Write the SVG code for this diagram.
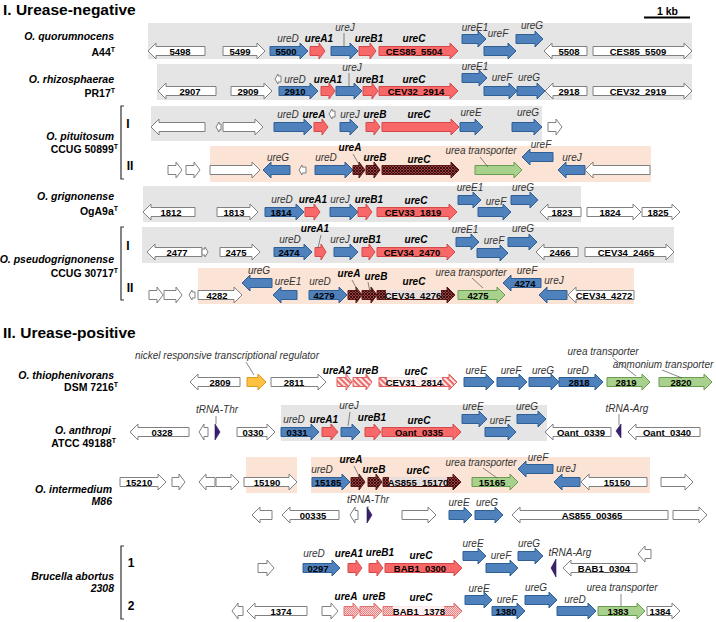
<svg xmlns="http://www.w3.org/2000/svg" width="716" height="622" viewBox="0 0 716 622">
<defs>
<pattern id="dh" width="3" height="3" patternUnits="userSpaceOnUse"><rect width="3" height="3" fill="#9e3e3e"/><path d="M0 0L3 3M3 0L0 3" stroke="#2e0a0a" stroke-width="0.9"/></pattern>
<pattern id="ps" width="4" height="4" patternUnits="userSpaceOnUse" patternTransform="rotate(-45)"><rect width="4" height="4" fill="#fde8e8"/><rect width="2" height="4" fill="#ec6a6a"/></pattern>
<pattern id="lh" width="2" height="2" patternUnits="userSpaceOnUse"><rect width="2" height="2" fill="#fbd2d2"/><rect width="1" height="1" fill="#ef8282"/><rect x="1" y="1" width="1" height="1" fill="#ef8282"/></pattern>
</defs>
<style>
.w{fill:#fff;stroke:#808080;stroke-width:1}
.b{fill:#4f81bd;stroke:#2f5f93;stroke-width:1}
.r{fill:#f96868;stroke:#d5484a;stroke-width:1}
.gr{fill:#a9d18e;stroke:#6a9c4f;stroke-width:1}
.yl{fill:#ffc13f;stroke:#d99a20;stroke-width:1}
.dh{fill:url(#dh);stroke:#5b1a1a;stroke-width:1}
.ps{fill:url(#ps);stroke:#e06060;stroke-width:1}
.lh{fill:url(#lh);stroke:#e07070;stroke-width:1}
.bg{fill:#e5e5e5}
.bp{fill:#fbe4d5}
.tr{fill:#3b2070;stroke:#2a1450;stroke-width:0.6}
text{font-family:"Liberation Sans",Arial,sans-serif}
.in{font-size:9.5px;font-weight:bold;text-anchor:middle;fill:#000}
.it{font-size:10px;font-style:italic;text-anchor:middle;fill:#333}
.bi{font-size:10px;font-style:italic;font-weight:bold;text-anchor:middle;fill:#000}
.sp{font-size:10.5px;font-style:italic;font-weight:bold;text-anchor:end;fill:#000}
.st{font-size:10.5px;font-weight:bold;text-anchor:end;fill:#000}
.ttl{font-size:15.5px;font-weight:bold;fill:#000}
.rn{font-size:12px;font-weight:bold;text-anchor:middle;fill:#000}
.ld{stroke:#555;stroke-width:0.7;fill:none}
.br{stroke:#333;stroke-width:1.2;fill:none}
.tb{fill:#fff;opacity:0.85}
</style>

<g id="boxes">
<rect class="bg" x="148" y="23" width="544" height="36"/>
<rect class="bg" x="157" y="64" width="535" height="36"/>
<rect class="bg" x="151" y="106" width="391" height="35"/>
<rect class="bp" x="210" y="146" width="441" height="36"/>
<rect class="bg" x="143" y="186" width="438" height="36"/>
<rect class="bg" x="142" y="227" width="532" height="36"/>
<rect class="bp" x="198" y="268" width="436" height="36"/>
<rect class="bg" x="281" y="405" width="266" height="36"/>
<rect class="bp" x="246" y="457" width="51" height="36"/>
<rect class="bp" x="311" y="457" width="339" height="36"/>
</g>

<g id="titles">
<text class="ttl" x="3" y="15">I. Urease-negative</text>
<text class="ttl" x="3" y="338">II. Urease-positive</text>
<text x="657" y="15" style="font-size:10.5px;font-weight:bold">1 kb</text>
<line x1="644" y1="17.5" x2="690" y2="17.5" stroke="#000" stroke-width="2"/>
</g>

<g id="species">
<text class="sp" x="114" y="40">O. quorumnocens</text>
<text class="st" x="115" y="56">A44<tspan font-size="7" dy="-4">T</tspan></text>
<text class="sp" x="114" y="83">O. rhizosphaerae</text>
<text class="st" x="115" y="97">PR17<tspan font-size="7" dy="-4">T</tspan></text>
<text class="sp" x="114" y="140">O. pituitosum</text>
<text class="st" x="118" y="153">CCUG 50899<tspan font-size="7" dy="-4">T</tspan></text>
<text class="sp" x="114" y="200">O. grignonense</text>
<text class="st" x="118" y="215">OgA9a<tspan font-size="7" dy="-4">T</tspan></text>
<text class="sp" x="114" y="263">O. pseudogrignonense</text>
<text class="st" x="118" y="277">CCUG 30717<tspan font-size="7" dy="-4">T</tspan></text>
<text class="sp" x="114" y="379">O. thiophenivorans</text>
<text class="st" x="118" y="391">DSM 7216<tspan font-size="7" dy="-4">T</tspan></text>
<text class="sp" x="111" y="434">O. anthropi</text>
<text class="st" x="116" y="447">ATCC 49188<tspan font-size="7" dy="-4">T</tspan></text>
<text class="sp" x="112" y="493">O. intermedium</text>
<text class="sp" x="112" y="505">M86</text>
<text class="sp" x="114" y="580">Brucella abortus</text>
<text class="sp" x="114" y="592">2308</text>
<path class="br" d="M124 106H121V179H124"/>
<text class="rn" x="128" y="128">I</text>
<text class="rn" x="130" y="170">II</text>
<path class="br" d="M124 227H121V300H124"/>
<text class="rn" x="128" y="250">I</text>
<text class="rn" x="130" y="292">II</text>
<path class="br" d="M124 546H121V619H124"/>
<text class="rn" x="131" y="567">1</text>
<text class="rn" x="131" y="610">2</text>
</g>

<g id="row1">
<g id="r1-5498"><path class="w" d="M205 46.5H156v-3.5l-8 8 8 8v-3.5H205z"/><text class="in" x="180" y="54.5">5498</text></g>
<g id="r1-5499"><path class="w" d="M223 46.5H257v-3.5l8 8-8 8v-3.5H223z"/><text class="in" x="240" y="54.5">5499</text></g>
<g id="r1-ureD"><path class="b" d="M270 46.5H300v-3.5l8 8-8 8v-3.5H270z"/><text class="in" x="286" y="54.5">5500</text><text class="it" x="288" y="42">ureD</text></g>
<g id="r1-ureA1"><path class="r" d="M310 46.5H319v-3.5l6 8-6 8v-3.5H310z"/><text class="bi" x="319" y="42">ureA1</text></g>
<g id="r1-ureJ"><path class="b" d="M331 46.5H350v-3.5l8 8-8 8v-3.5H331z"/><text class="it" x="345" y="31">ureJ</text></g>
<g id="r1-ureB1"><path class="r" d="M359 46.5H370v-3.5l6 8-6 8v-3.5H359z"/><text class="bi" x="369" y="42">ureB1</text></g>
<g id="r1-ureC"><path class="r" d="M379 46.5H450v-3.5l8 8-8 8v-3.5H379z"/><text class="in" x="414" y="54.5">CES85_5504</text><text class="bi" x="414" y="42">ureC</text></g>
<g id="r1-ureE1"><path class="b" d="M462 34.5H478v-3.5l8 8-8 8v-3.5H462z"/><text class="it" x="475" y="31">ureE1</text></g>
<g id="r1-ureF"><path class="b" d="M484 46.5H508v-3.5l8 8-8 8v-3.5H484z"/><text class="it" x="498" y="37">ureF</text></g>
<g id="r1-ureG"><path class="b" d="M516 34.5H535v-3.5l8 8-8 8v-3.5H516z"/><text class="it" x="532" y="29">ureG</text></g>
<g id="r1-5508"><path class="w" d="M587 46.5H552v-3.5l-8 8 8 8v-3.5H587z"/><text class="in" x="569" y="54.5">5508</text></g>
<g id="r1-5509"><path class="w" d="M593 46.5H684v-3.5l8 8-8 8v-3.5H593z"/><text class="in" x="638" y="54.5">CES85_5509</text></g>
</g>

<g id="row2">
<g id="r2-2907"><path class="w" d="M216 86.5H166v-3.5l-8 8 8 8v-3.5H216z"/><text class="in" x="190" y="94.5">2907</text></g>
<g id="r2-2909"><path class="w" d="M231 86.5H264v-3.5l8 8-8 8v-3.5H231z"/><text class="in" x="248" y="94.5">2909</text></g>
<g id="r2-small"><path class="w" d="M281 76H278v-2l-3 5 3 5v-2H281z"/></g>
<g id="r2-ureD"><path class="b" d="M279 86.5H310v-3.5l8 8-8 8v-3.5H279z"/><text class="in" x="295" y="94.5">2910</text><text class="it" x="295" y="83">ureD</text></g>
<g id="r2-ureA1"><path class="r" d="M321 86.5H329v-3.5l6 8-6 8v-3.5H321z"/><text class="bi" x="328" y="83">ureA1</text></g>
<g id="r2-ureJ"><path class="b" d="M336 86.5H354v-3.5l8 8-8 8v-3.5H336z"/><text class="it" x="352" y="71">ureJ</text></g>
<g id="r2-ureB1"><path class="r" d="M363 86.5H372v-3.5l6 8-6 8v-3.5H363z"/><text class="bi" x="370" y="83">ureB1</text></g>
<g id="r2-ureC"><path class="r" d="M379 86.5H450v-3.5l8 8-8 8v-3.5H379z"/><text class="in" x="416" y="94.5">CEV32_2914</text><text class="bi" x="414" y="83">ureC</text></g>
<g id="r2-ureE1"><path class="b" d="M462 73.5H479v-3.5l8 8-8 8v-3.5H462z"/><text class="it" x="475" y="70">ureE1</text></g>
<g id="r2-ureF"><path class="b" d="M484 86.5H509v-3.5l8 8-8 8v-3.5H484z"/><text class="it" x="502" y="81">ureF</text></g>
<g id="r2-ureG"><path class="b" d="M517 86.5H537v-3.5l8 8-8 8v-3.5H517z"/><text class="it" x="529" y="81">ureG</text></g>
<g id="r2-2918"><path class="w" d="M587 86.5H553v-3.5l-8 8 8 8v-3.5H587z"/><text class="in" x="569" y="94.5">2918</text></g>
<g id="r2-2919"><path class="w" d="M593 86.5H684v-3.5l8 8-8 8v-3.5H593z"/><text class="in" x="638" y="94.5">CEV32_2919</text></g>
</g>

<g id="row3a">
<g id="r3a-g1"><path class="w" d="M205 122.5H159v-3.5l-8 8 8 8v-3.5H205z"/></g>
<g id="r3a-g2"><path class="w" d="M221 124H219v-2l-3 5 3 5v-2H221z"/></g>
<g id="r3a-g3"><path class="w" d="M223 122.5H255v-3.5l8 8-8 8v-3.5H223z"/></g>
<g id="r3a-ureD"><path class="b" d="M274 122.5H304v-3.5l8 8-8 8v-3.5H274z"/><text class="it" x="288" y="118">ureD</text></g>
<g id="r3a-ureA"><path class="r" d="M314 122.5H322v-3.5l6 8-6 8v-3.5H314z"/><text class="bi" x="314" y="118">ureA</text></g>
<g id="r3a-g4"><path class="w" d="M335 111H332v-2l-3 5 3 5v-2H335z"/></g>
<g id="r3a-ureJ"><path class="b" d="M340 122.5H350v-3.5l8 8-8 8v-3.5H340z"/><text class="it" x="350" y="118">ureJ</text></g>
<g id="r3a-ureB"><path class="r" d="M366 122.5H374v-3.5l6 8-6 8v-3.5H366z"/><text class="bi" x="375" y="118">ureB</text></g>
<g id="r3a-ureC"><path class="r" d="M382 122.5H451v-3.5l8 8-8 8v-3.5H382z"/><text class="bi" x="419" y="118">ureC</text></g>
<g id="r3a-ureE"><path class="b" d="M460 122.5H475v-3.5l8 8-8 8v-3.5H460z"/><text class="it" x="471" y="116">ureE</text></g>
<g id="r3a-ureG"><path class="b" d="M512 122.5H534v-3.5l8 8-8 8v-3.5H512z"/><text class="it" x="528" y="116">ureG</text></g>
<g id="r3a-g5"><path class="w" d="M548 122.5H556v-3.5l6 8-6 8v-3.5H548z"/></g>
</g>

<g id="row3b">
<g id="r3b-g1"><path class="w" d="M168 165.5H176v-3.5l6 8-6 8v-3.5H168z"/></g>
<g id="r3b-g2"><path class="w" d="M186 165.5H194v-3.5l6 8-6 8v-3.5H186z"/></g>
<g id="r3b-g3"><path class="w" d="M210 165.5H252v-3.5l8 8-8 8v-3.5H210z"/></g>
<g id="r3b-ureG"><path class="b" d="M290 165.5H271v-3.5l-8 8 8 8v-3.5H290z"/><text class="it" x="278" y="161">ureG</text></g>
<g id="r3b-g4"><path class="w" d="M306 167H302v-2l-3 5 3 5v-2H306z"/></g>
<g id="r3b-ureD"><path class="b" d="M315 165.5H345v-3.5l8 8-8 8v-3.5H315z"/><text class="it" x="326" y="161">ureD</text></g>
<g id="r3b-ureA"><path class="dh" d="M353 165.5H359v-3.5l6 8-6 8v-3.5H353z"/><text class="bi" x="350" y="151">ureA</text></g>
<g id="r3b-ureB"><path class="dh" d="M366 165.5H374v-3.5l6 8-6 8v-3.5H366z"/><text class="bi" x="375" y="161">ureB</text></g>
<g id="r3b-ureC"><path class="dh" d="M382 165.5H451v-3.5l8 8-8 8v-3.5H382z"/><text class="bi" x="419" y="163">ureC</text></g>
<g id="r3b-ut"><path class="gr" d="M475 165.5H514v-3.5l8 8-8 8v-3.5H475z"/><text class="it" x="481" y="154">urea transporter</text></g>
<g id="r3b-ureF"><path class="b" d="M553 152.5H530v-3.5l-8 8 8 8v-3.5H553z"/><text class="it" x="541" y="148">ureF</text></g>
<g id="r3b-ureJ"><path class="b" d="M585 165.5H566v-3.5l-8 8 8 8v-3.5H585z"/><text class="it" x="572" y="161">ureJ</text></g>
<g id="r3b-g5"><path class="w" d="M650 165.5H593v-3.5l-8 8 8 8v-3.5H650z"/></g>
</g>

<g id="row4">
<g id="r4-1812"><path class="w" d="M195 207.5H151v-3.5l-8 8 8 8v-3.5H195z"/><text class="in" x="171" y="215.5">1812</text></g>
<g id="r4-1813"><path class="w" d="M217 207.5H250v-3.5l8 8-8 8v-3.5H217z"/><text class="in" x="234" y="215.5">1813</text></g>
<g id="r4-ureD"><path class="b" d="M265 207.5H296v-3.5l8 8-8 8v-3.5H265z"/><text class="in" x="281" y="215.5">1814</text><text class="it" x="282" y="203">ureD</text></g>
<g id="r4-ureA1"><path class="r" d="M305 207.5H314v-3.5l6 8-6 8v-3.5H305z"/><text class="bi" x="313" y="203">ureA1</text></g>
<g id="r4-ureJ"><path class="b" d="M330 207.5H350v-3.5l8 8-8 8v-3.5H330z"/><text class="it" x="340" y="203">ureJ</text></g>
<g id="r4-ureB1"><path class="r" d="M358 207.5H366v-3.5l6 8-6 8v-3.5H358z"/><text class="bi" x="369" y="203">ureB1</text></g>
<g id="r4-ureC"><path class="r" d="M377 207.5H449v-3.5l8 8-8 8v-3.5H377z"/><text class="in" x="413" y="215.5">CEV33_1819</text><text class="bi" x="416" y="204">ureC</text></g>
<g id="r4-ureE1"><path class="b" d="M458 195.5H473v-3.5l8 8-8 8v-3.5H458z"/><text class="it" x="470" y="191">ureE1</text></g>
<g id="r4-ureF"><path class="b" d="M478 207.5H503v-3.5l8 8-8 8v-3.5H478z"/><text class="it" x="496" y="205">ureF</text></g>
<g id="r4-ureG"><path class="b" d="M511 195.5H530v-3.5l8 8-8 8v-3.5H511z"/><text class="it" x="523" y="191">ureG</text></g>
<g id="r4-1823"><path class="w" d="M581 207.5H548v-3.5l-8 8 8 8v-3.5H581z"/><text class="in" x="562" y="215.5">1823</text></g>
<g id="r4-1824"><path class="w" d="M587 207.5H633v-3.5l8 8-8 8v-3.5H587z"/><text class="in" x="610" y="215.5">1824</text></g>
<g id="r4-1825"><path class="w" d="M642 207.5H672v-3.5l8 8-8 8v-3.5H642z"/><text class="in" x="658" y="215.5">1825</text></g>
</g>

<g id="row5a">
<g id="r5a-2477"><path class="w" d="M202 247.5H155v-3.5l-8 8 8 8v-3.5H202z"/><text class="in" x="177" y="255.5">2477</text></g>
<g id="r5a-small"><path class="w" d="M202 249H205v-2l3 5-3 5v-2H202z"/></g>
<g id="r5a-2475"><path class="w" d="M220 247.5H252v-3.5l8 8-8 8v-3.5H220z"/><text class="in" x="236" y="255.5">2475</text></g>
<g id="r5a-ureD"><path class="b" d="M274 247.5H304v-3.5l8 8-8 8v-3.5H274z"/><text class="in" x="289" y="255.5">2474</text><text class="it" x="290" y="243">ureD</text></g>
<g id="r5a-ureA1"><path class="r" d="M315 247.5H321v-3.5l5 8-5 8v-3.5H315z"/><text class="bi" x="315" y="232">ureA1</text></g>
<g id="r5a-ureJ"><path class="b" d="M334 247.5H350v-3.5l8 8-8 8v-3.5H334z"/><text class="it" x="340" y="243">ureJ</text></g>
<g id="r5a-ureB1"><path class="r" d="M362 247.5H369v-3.5l6 8-6 8v-3.5H362z"/><text class="bi" x="367" y="243">ureB1</text></g>
<g id="r5a-ureC"><path class="r" d="M377 247.5H447v-3.5l8 8-8 8v-3.5H377z"/><text class="in" x="412" y="255.5">CEV34_2470</text><text class="bi" x="416" y="243">ureC</text></g>
<g id="r5a-ureE1"><path class="b" d="M456 237.5H471v-3.5l8 8-8 8v-3.5H456z"/><text class="it" x="465" y="233">ureE1</text></g>
<g id="r5a-ureF"><path class="b" d="M477 248.5H500v-3.5l8 8-8 8v-3.5H477z"/><text class="it" x="494" y="244">ureF</text></g>
<g id="r5a-ureG"><path class="b" d="M508 237.5H529v-3.5l8 8-8 8v-3.5H508z"/><text class="it" x="523" y="232">ureG</text></g>
<g id="r5a-2466"><path class="w" d="M578 247.5H544v-3.5l-8 8 8 8v-3.5H578z"/><text class="in" x="560" y="255.5">2466</text></g>
<g id="r5a-2465"><path class="w" d="M585 247.5H666v-3.5l8 8-8 8v-3.5H585z"/><text class="in" x="626" y="255.5">CEV34_2465</text></g>
</g>

<g id="row5b">
<g id="r5b-g1"><path class="w" d="M149 290.5H157v-3.5l6 8-6 8v-3.5H149z"/></g>
<g id="r5b-g2"><path class="w" d="M164 290.5H176v-3.5l6 8-6 8v-3.5H164z"/></g>
<g id="r5b-g3"><path class="w" d="M195 292H192v-2l-3 5 3 5v-2H195z"/></g>
<g id="r5b-4282"><path class="w" d="M198 290.5H234v-3.5l8 8-8 8v-3.5H198z"/><text class="in" x="217" y="298.5">4282</text></g>
<g id="r5b-ureG"><path class="b" d="M272 278.5H250v-3.5l-8 8 8 8v-3.5H272z"/><text class="it" x="259" y="274">ureG</text></g>
<g id="r5b-ureE1"><path class="b" d="M297 290.5H281v-3.5l-8 8 8 8v-3.5H297z"/><text class="it" x="288" y="285">ureE1</text></g>
<g id="r5b-ureD"><path class="b" d="M309 290.5H339v-3.5l8 8-8 8v-3.5H309z"/><text class="in" x="324" y="298.5">4279</text><text class="it" x="320" y="285">ureD</text></g>
<g id="r5b-ureA"><path class="dh" d="M348 290.5H356v-3.5l6 8-6 8v-3.5H348z"/><text class="bi" x="349" y="277">ureA</text></g>
<g id="r5b-ureB"><path class="dh" d="M362 290.5H371v-3.5l6 8-6 8v-3.5H362z"/><text class="bi" x="376" y="280">ureB</text></g>
<g id="r5b-ureC"><path class="dh" d="M377 290.5H447v-3.5l8 8-8 8v-3.5H377z"/><rect class="tb" x="386" y="290" width="55" height="9"/><text class="in" x="413" y="298.5">CEV34_4276</text><text class="bi" x="414" y="285">ureC</text></g>
<g id="r5b-ut"><path class="gr" d="M458 290.5H497v-3.5l8 8-8 8v-3.5H458z"/><text class="in" x="478" y="298.5">4275</text><text class="it" x="471" y="276">urea transporter</text></g>
<g id="r5b-ureF"><path class="b" d="M541 278.5H511v-3.5l-8 8 8 8v-3.5H541z"/><text class="in" x="525" y="286.5">4274</text><text class="it" x="527" y="274">ureF</text></g>
<g id="r5b-ureJ"><path class="b" d="M567 290.5H547v-3.5l-8 8 8 8v-3.5H567z"/><text class="it" x="554" y="284">ureJ</text></g>
<g id="r5b-4272"><path class="w" d="M634 290.5H576v-3.5l-8 8 8 8v-3.5H634z"/><text class="in" x="604" y="298.5">CEV34_4272</text></g>
</g>

<g id="row6">
<g id="r6-2809"><path class="w" d="M240 377.5H198v-3.5l-8 8 8 8v-3.5H240z"/><text class="in" x="220" y="385.5">2809</text></g>
<g id="r6-nrtr"><path class="yl" d="M247 377.5H258v-3.5l8 8-8 8v-3.5H247z"/><text class="it" x="227" y="359">nickel responsive transcriptional regulator</text></g>
<g id="r6-2811"><path class="w" d="M271 377.5H318v-3.5l8 8-8 8v-3.5H271z"/><text class="in" x="294" y="385.5">2811</text></g>
<g id="r6-ureA2"><path class="ps" d="M337 377.5H346v-3.5l6 8-6 8v-3.5H337z"/><text class="bi" x="337" y="374">ureA2</text></g>
<g id="r6-ureB"><path class="ps" d="M353 377.5H366v-3.5l6 8-6 8v-3.5H353z"/><text class="bi" x="367" y="374">ureB</text></g>
<g id="r6-ureC"><path class="ps" d="M379 377.5H449v-3.5l8 8-8 8v-3.5H379z"/><rect class="tb" x="387" y="377" width="55" height="9"/><text class="in" x="414" y="385.5">CEV31_2814</text><text class="bi" x="416" y="375">ureC</text></g>
<g id="r6-ureE"><path class="b" d="M464 377.5H486v-3.5l8 8-8 8v-3.5H464z"/><text class="it" x="476" y="374">ureE</text></g>
<g id="r6-ureF"><path class="b" d="M497 377.5H519v-3.5l8 8-8 8v-3.5H497z"/><text class="it" x="511" y="374">ureF</text></g>
<g id="r6-ureG"><path class="b" d="M529 377.5H551v-3.5l8 8-8 8v-3.5H529z"/><text class="it" x="543" y="374">ureG</text></g>
<g id="r6-ureD"><path class="b" d="M559 377.5H595v-3.5l8 8-8 8v-3.5H559z"/><text class="in" x="579" y="385.5">2818</text><text class="it" x="578" y="374">ureD</text></g>
<g id="r6-2819"><path class="gr" d="M607 377.5H642v-3.5l8 8-8 8v-3.5H607z"/><text class="in" x="626" y="385.5">2819</text><text class="it" x="603" y="355">urea transporter</text></g>
<g id="r6-2820"><path class="gr" d="M659 377.5H704v-3.5l8 8-8 8v-3.5H659z"/><text class="in" x="681" y="385.5">2820</text><text class="it" x="663" y="368">ammonium transporter</text></g>
</g>

<g id="row7">
<g id="r7-0328"><path class="w" d="M189 427.5H138v-3.5l-8 8 8 8v-3.5H189z"/><text class="in" x="162" y="435.5">0328</text></g>
<g id="r7-small"><path class="w" d="M208 427.5H204v-3.5l-5 8 5 8v-3.5H208z"/></g>
<g id="r7-tRNAThr"><polygon class="tr" points="215,424 220,432 215,440"/><text class="it" x="217" y="413">tRNA-Thr</text></g>
<g id="r7-0330"><path class="w" d="M237 427.5H267v-3.5l8 8-8 8v-3.5H237z"/><text class="in" x="253" y="435.5">0330</text></g>
<g id="r7-ureD"><path class="b" d="M281 427.5H311v-3.5l8 8-8 8v-3.5H281z"/><text class="in" x="297" y="435.5">0331</text><text class="it" x="294" y="423">ureD</text></g>
<g id="r7-ureA1"><path class="r" d="M322 427.5H331v-3.5l7 8-7 8v-3.5H322z"/><text class="bi" x="324" y="423">ureA1</text></g>
<g id="r7-ureJ"><path class="b" d="M341 427.5H352v-3.5l8 8-8 8v-3.5H341z"/><text class="it" x="349" y="409">ureJ</text></g>
<g id="r7-ureB1"><path class="r" d="M365 427.5H374v-3.5l7 8-7 8v-3.5H365z"/><text class="bi" x="372" y="421">ureB1</text></g>
<g id="r7-ureC"><path class="r" d="M382 427.5H453v-3.5l8 8-8 8v-3.5H382z"/><text class="in" x="419" y="435.5">Oant_0335</text><text class="bi" x="419" y="424">ureC</text></g>
<g id="r7-ureE"><path class="b" d="M462 414.5H479v-3.5l8 8-8 8v-3.5H462z"/><text class="it" x="473" y="410">ureE</text></g>
<g id="r7-ureF"><path class="b" d="M485 427.5H508v-3.5l8 8-8 8v-3.5H485z"/><text class="it" x="500" y="424">ureF</text></g>
<g id="r7-ureG"><path class="b" d="M517 414.5H538v-3.5l8 8-8 8v-3.5H517z"/><text class="it" x="527" y="410">ureG</text></g>
<g id="r7-0339"><path class="w" d="M611 427.5H553v-3.5l-8 8 8 8v-3.5H611z"/><text class="in" x="581" y="435.5">Oant_0339</text></g>
<g id="r7-tRNAArg"><polygon class="tr" points="621,424 616,431 621,438"/><text class="it" x="627" y="412">tRNA-Arg</text></g>
<g id="r7-0340"><path class="w" d="M700 427.5H636v-3.5l-8 8 8 8v-3.5H700z"/><text class="in" x="667" y="435.5">Oant_0340</text></g>
</g>

<g id="row8a">
<g id="r8a-15210"><path class="w" d="M120 477.5H158v-3.5l8 8-8 8v-3.5H120z"/><text class="in" x="139" y="485.5">15210</text></g>
<g id="r8a-g1"><path class="w" d="M172 477.5H179v-3.5l6 8-6 8v-3.5H172z"/></g>
<g id="r8a-g2"><path class="w" d="M215 477.5H206v-3.5l-7 8 7 8v-3.5H215z"/></g>
<g id="r8a-g3"><path class="w" d="M216 477.5H231v-3.5l8 8-8 8v-3.5H216z"/></g>
<g id="r8a-15190"><path class="w" d="M244 477.5H289v-3.5l8 8-8 8v-3.5H244z"/><text class="in" x="267" y="485.5">15190</text></g>
<g id="r8a-ureD"><path class="b" d="M312 477.5H342v-3.5l8 8-8 8v-3.5H312z"/><text class="in" x="328" y="485.5">15185</text><text class="it" x="322" y="473">ureD</text></g>
<g id="r8a-ureA"><path class="dh" d="M351 477.5H359v-3.5l6 8-6 8v-3.5H351z"/><text class="bi" x="351" y="463">ureA</text></g>
<g id="r8a-ureB"><path class="dh" d="M368 477.5H376v-3.5l6 8-6 8v-3.5H368z"/><text class="bi" x="374" y="473">ureB</text></g>
<g id="r8a-ureC"><path class="dh" d="M383 477.5H453v-3.5l8 8-8 8v-3.5H383z"/><rect class="tb" x="389" y="477" width="58" height="9"/><text class="in" x="418" y="485.5">AS855_15170</text><text class="bi" x="418" y="474">ureC</text></g>
<g id="r8a-ut"><path class="gr" d="M472 477.5H510v-3.5l8 8-8 8v-3.5H472z"/><text class="in" x="492" y="485.5">15165</text><text class="it" x="481" y="466">urea transporter</text></g>
<g id="r8a-ureF"><path class="b" d="M553 464.5H526v-3.5l-8 8 8 8v-3.5H553z"/><text class="it" x="538" y="461">ureF</text></g>
<g id="r8a-ureJ"><path class="b" d="M580 477.5H562v-3.5l-8 8 8 8v-3.5H580z"/><text class="it" x="566" y="472">ureJ</text></g>
<g id="r8a-15150"><path class="w" d="M647 477.5H589v-3.5l-8 8 8 8v-3.5H647z"/><text class="in" x="617" y="485.5">15150</text></g>
<g id="r8a-g4"><path class="w" d="M661 477.5H685v-3.5l8 8-8 8v-3.5H661z"/></g>
</g>

<g id="row8b">
<g id="r8b-g1"><path class="w" d="M272 510.5H260v-3.5l-8 8 8 8v-3.5H272z"/></g>
<g id="r8b-00335"><path class="w" d="M339 510.5H290v-3.5l-8 8 8 8v-3.5H339z"/><text class="in" x="313" y="518.5">00335</text></g>
<g id="r8b-g2"><path class="w" d="M358 510.5H355v-3.5l-5 8 5 8v-3.5H358z"/></g>
<g id="r8b-tRNAThr"><polygon class="tr" points="367,507 372,515 367,523"/><text class="it" x="368" y="503">tRNA-Thr</text></g>
<g id="r8b-g3"><path class="w" d="M402 510.5H428v-3.5l8 8-8 8v-3.5H402z"/></g>
<g id="r8b-ureE"><path class="b" d="M449 510.5H464v-3.5l8 8-8 8v-3.5H449z"/><text class="it" x="459" y="506">ureE</text></g>
<g id="r8b-ureG"><path class="b" d="M475 510.5H495v-3.5l8 8-8 8v-3.5H475z"/><text class="it" x="487" y="506">ureG</text></g>
<g id="r8b-00365"><path class="w" d="M668 510.5H520v-3.5l-8 8 8 8v-3.5H668z"/><text class="in" x="592" y="518.5">AS855_00365</text></g>
<g id="r8b-g4"><path class="w" d="M673 510.5H699v-3.5l8 8-8 8v-3.5H673z"/></g>
</g>

<g id="row9a">
<g id="r9a-g1"><path class="w" d="M258 563.5H267v-3.5l7 8-7 8v-3.5H258z"/></g>
<g id="r9a-ureD"><path class="b" d="M303 563.5H332v-3.5l8 8-8 8v-3.5H303z"/><text class="in" x="318" y="571.5">0297</text><text class="it" x="314" y="557">ureD</text></g>
<g id="r9a-ureA1"><path class="r" d="M348 563.5H356v-3.5l6 8-6 8v-3.5H348z"/><text class="bi" x="349" y="557">ureA1</text></g>
<g id="r9a-ureB1"><path class="r" d="M369 563.5H377v-3.5l6 8-6 8v-3.5H369z"/><text class="bi" x="380" y="556">ureB1</text></g>
<g id="r9a-ureC"><path class="r" d="M385 563.5H454v-3.5l8 8-8 8v-3.5H385z"/><text class="in" x="420" y="571.5">BAB1_0300</text><text class="bi" x="421" y="559">ureC</text></g>
<g id="r9a-ureE"><path class="b" d="M463 551.5H478v-3.5l8 8-8 8v-3.5H463z"/><text class="it" x="473" y="547">ureE</text></g>
<g id="r9a-ureF"><path class="b" d="M486 563.5H510v-3.5l8 8-8 8v-3.5H486z"/><text class="it" x="501" y="559">ureF</text></g>
<g id="r9a-ureG"><path class="b" d="M518 551.5H535v-3.5l8 8-8 8v-3.5H518z"/><text class="it" x="529" y="547">ureG</text></g>
<g id="r9a-tRNAArg"><polygon class="tr" points="556,559 551,568 556,577"/><text class="it" x="570" y="556">tRNA-Arg</text></g>
<g id="r9a-0304"><path class="w" d="M637 563.5H571v-3.5l-8 8 8 8v-3.5H637z"/><text class="in" x="604" y="571.5">BAB1_0304</text></g>
<g id="r9a-g2"><path class="w" d="M651 549.5H645v-3.5l-7 8 7 8v-3.5H651z"/></g>
</g>

<g id="row9b">
<g id="r9b-g1"><path class="w" d="M243 606.5H238v-3.5l-6 8 6 8v-3.5H243z"/></g>
<g id="r9b-1374"><path class="w" d="M307 606.5H255v-3.5l-8 8 8 8v-3.5H307z"/><text class="in" x="281" y="614.5">1374</text></g>
<g id="r9b-g2"><path class="w" d="M322 606.5H331v-3.5l7 8-7 8v-3.5H322z"/></g>
<g id="r9b-ureA"><path class="lh" d="M344 606.5H353v-3.5l7 8-7 8v-3.5H344z"/><text class="bi" x="346" y="600">ureA</text></g>
<g id="r9b-ureB"><path class="lh" d="M360 606.5H374v-3.5l8 8-8 8v-3.5H360z"/><text class="bi" x="374" y="600">ureB</text></g>
<g id="r9b-ureC"><path class="lh" d="M383 606.5H454v-3.5l8 8-8 8v-3.5H383z"/><rect class="tb" x="393" y="606" width="51" height="9" opacity="0.6"/><text class="in" x="419" y="614.5">BAB1_1378</text><text class="bi" x="421" y="601">ureC</text></g>
<g id="r9b-ureE"><path class="b" d="M465 595.5H484v-3.5l8 8-8 8v-3.5H465z"/><text class="it" x="479" y="592">ureE</text></g>
<g id="r9b-ureF"><path class="b" d="M492 606.5H517v-3.5l8 8-8 8v-3.5H492z"/><text class="in" x="506" y="614.5">1380</text><text class="it" x="507" y="603">ureF</text></g>
<g id="r9b-ureG"><path class="b" d="M525 595.5H549v-3.5l8 8-8 8v-3.5H525z"/><text class="it" x="536" y="591">ureG</text></g>
<g id="r9b-ureD"><path class="b" d="M557 606.5H588v-3.5l8 8-8 8v-3.5H557z"/><text class="it" x="575" y="603">ureD</text></g>
<g id="r9b-1383"><path class="gr" d="M598 606.5H637v-3.5l8 8-8 8v-3.5H598z"/><text class="in" x="618" y="614.5">1383</text><text class="it" x="622" y="591">urea transporter</text></g>
<g id="r9b-1384"><path class="w" d="M647 606.5H672v-3.5l8 8-8 8v-3.5H647z"/><text class="in" x="660" y="614.5">1384</text></g>
</g>

<g id="connectors">
<line class="ld" x1="344" y1="33" x2="344" y2="47"/>
<line class="ld" x1="349" y1="73" x2="349" y2="87"/>
<line class="ld" x1="353" y1="154" x2="360" y2="166"/>
<line class="ld" x1="480" y1="157" x2="488" y2="167"/>
<line class="ld" x1="321" y1="235" x2="318" y2="248"/>
<line class="ld" x1="352" y1="280" x2="358" y2="291"/>
<line class="ld" x1="368" y1="282" x2="370" y2="292"/>
<line class="ld" x1="472" y1="278" x2="483" y2="288"/>
<line class="ld" x1="246" y1="362" x2="254" y2="375"/>
<line class="ld" x1="613" y1="358" x2="636" y2="376"/>
<line class="ld" x1="662" y1="370" x2="682" y2="378"/>
<line class="ld" x1="350" y1="412" x2="348" y2="426"/>
<line class="ld" x1="216" y1="416" x2="216" y2="424"/>
<line class="ld" x1="619" y1="414" x2="619" y2="425"/>
<line class="ld" x1="354" y1="466" x2="360" y2="478"/>
<line class="ld" x1="483" y1="468" x2="497" y2="478"/>
<line class="ld" x1="368" y1="506" x2="368" y2="508"/>
<line class="ld" x1="621" y1="594" x2="621" y2="606"/>
</g>
</svg>
